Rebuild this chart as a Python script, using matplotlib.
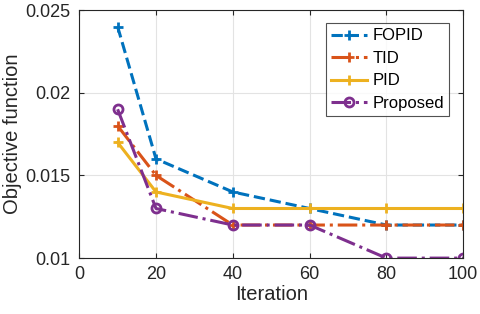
import matplotlib.pyplot as plt

iterations = [10, 20, 40, 60, 80, 100]
fopid = [0.024, 0.016, 0.014, 0.013, 0.012, 0.012]
tid = [0.018, 0.015, 0.012, 0.012, 0.012, 0.012]
pid = [0.017, 0.014, 0.013, 0.013, 0.013, 0.013]
proposed = [0.019, 0.013, 0.012, 0.012, 0.010, 0.010]

plt.rcParams['font.family'] = 'Liberation Sans'
plt.rcParams['font.size'] = 13

fig = plt.figure(figsize=(4.8, 3.14), dpi=100)
ax = fig.add_axes([0.165, 0.178, 0.8, 0.79])

ax.plot(iterations, fopid, '--', color='#0072BD', marker='+', ms=7, mew=2, lw=2.2, label='FOPID')
ax.plot(iterations, tid, '-.', color='#D95319', marker='+', ms=7, mew=2, lw=2.2, label='TID')
ax.plot(iterations, pid, '-', color='#EDB120', marker='+', ms=7, mew=2, lw=2.2, label='PID')
ax.plot(iterations, proposed, '-.', color='#7E2F8E', marker='o', ms=6.5, mew=2, mfc='none',
        lw=2.2, label='Proposed')

ax.set_xlim(0, 100)
ax.set_ylim(0.01, 0.025)
ax.set_xticks([0, 20, 40, 60, 80, 100])
ax.set_yticks([0.01, 0.015, 0.02, 0.025])
ax.set_yticklabels(['0.01', '0.015', '0.02', '0.025'])
ax.grid(True, color='#e3e3e3', lw=0.8)
ax.tick_params(direction='in', top=True, right=True, colors='#262626', labelcolor='#262626',
               labelsize=13, pad=6)
for s in ax.spines.values():
    s.set_color('#262626')
    s.set_linewidth(0.8)

ax.set_xlabel('Iteration', color='#262626', labelpad=1, fontsize=14.5)
ax.set_ylabel('Objective function', color='#262626', labelpad=3, fontsize=14.5)

leg = ax.legend(loc='upper right', bbox_to_anchor=(0.985, 0.98), fancybox=False,
                edgecolor='#262626', handlelength=2.2, handletextpad=0.3,
                borderpad=0.3, labelspacing=0.45, fontsize=12)
leg.get_frame().set_linewidth(0.8)

fig.savefig('out.png', dpi=100)
